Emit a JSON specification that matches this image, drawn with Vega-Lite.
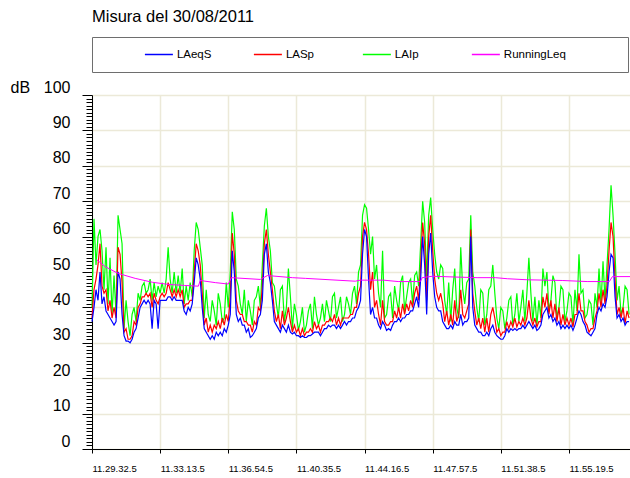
{
"$schema": "https://vega.github.io/schema/vega-lite/v6.json",
"padding": {"left": 10, "top": 9, "right": 0, "bottom": 0},
"background": "white",
"bounds": "flush",
"spacing": 23,
"title": {"text": "Misura del 30/08/2011", "anchor": "start", "frame": "group", "fontSize": 16.5, "font": "Liberation Sans", "fontWeight": "normal", "color": "black", "offset": 11},
"config": {"font": "Liberation Sans", "view": {"stroke": null}},
"datasets": {
"lev": [
{"t":0,"i":40,"s":37,"a":36},{"t":6.5,"i":65,"s":45,"a":40},{"t":13,"i":52,"s":48,"a":45},{"t":19.5,"i":60,"s":52,"a":42},{"t":26,"i":62,"s":58,"a":50},
{"t":32.5,"i":56,"s":46,"a":41},{"t":39,"i":45,"s":44,"a":43},{"t":45.5,"i":57,"s":45,"a":39},{"t":52,"i":41,"s":39,"a":38},{"t":58.5,"i":54,"s":42,"a":37},
{"t":65,"i":38,"s":37,"a":36},{"t":71.5,"i":49,"s":40,"a":35},{"t":78,"i":38,"s":37,"a":36},{"t":84.5,"i":66,"s":57,"a":50},{"t":91,"i":62,"s":55,"a":48},
{"t":97.5,"i":58,"s":47,"a":38},{"t":104,"i":34,"s":33,"a":32},{"t":110.5,"i":42,"s":34,"a":30.5},{"t":117,"i":36,"s":31,"a":30.5},{"t":123.5,"i":32,"s":31,"a":30},
{"t":130,"i":38,"s":32,"a":31},{"t":136.5,"i":40,"s":36,"a":33},{"t":143,"i":36,"s":35,"a":34},{"t":149.5,"i":44,"s":40,"a":37},{"t":156,"i":42,"s":41,"a":40},
{"t":162.5,"i":46,"s":43,"a":41},{"t":169,"i":47,"s":43,"a":42},{"t":175.5,"i":44,"s":44,"a":41},{"t":182,"i":45,"s":43,"a":42},{"t":188.5,"i":48,"s":44,"a":41},
{"t":195,"i":42,"s":40,"a":34},{"t":201.5,"i":47,"s":44,"a":42},{"t":208,"i":43,"s":42,"a":41},{"t":214.5,"i":46,"s":41,"a":34},{"t":221,"i":44,"s":43,"a":42},
{"t":227.5,"i":47,"s":44,"a":42},{"t":234,"i":44,"s":43,"a":42},{"t":240.5,"i":48,"s":44,"a":42},{"t":247,"i":57,"s":47,"a":43},{"t":253.5,"i":48,"s":45,"a":43},
{"t":260,"i":44,"s":43,"a":42},{"t":266.5,"i":50,"s":45,"a":43},{"t":273,"i":44,"s":43,"a":42},{"t":279.5,"i":49,"s":45,"a":42},{"t":286,"i":44,"s":43,"a":42},
{"t":292.5,"i":51,"s":45,"a":42},{"t":299,"i":41,"s":40,"a":39},{"t":305.5,"i":46,"s":41,"a":38},{"t":312,"i":42,"s":41,"a":40},{"t":318.5,"i":47,"s":42,"a":39},
{"t":325,"i":43,"s":42,"a":41},{"t":331.5,"i":56,"s":50,"a":47},{"t":338,"i":64,"s":58,"a":54},{"t":344.5,"i":62,"s":56,"a":52},{"t":351,"i":57,"s":52,"a":48},
{"t":357.5,"i":52,"s":44,"a":40},{"t":364,"i":37,"s":35,"a":34},{"t":370.5,"i":45,"s":37,"a":33},{"t":377,"i":38,"s":33,"a":32},{"t":383.5,"i":36,"s":35,"a":31},
{"t":390,"i":42,"s":33,"a":32},{"t":396.5,"i":39,"s":35,"a":31},{"t":403,"i":35,"s":34,"a":33},{"t":409.5,"i":44,"s":36,"a":32},{"t":416,"i":41,"s":34,"a":33},
{"t":422.5,"i":36,"s":37,"a":32},{"t":429,"i":37,"s":35,"a":34},{"t":435.5,"i":47,"s":38,"a":33},{"t":442,"i":40,"s":36,"a":35},{"t":448.5,"i":50,"s":43,"a":38},
{"t":455,"i":67,"s":61,"a":56},{"t":461.5,"i":62,"s":55,"a":50},{"t":468,"i":48,"s":42,"a":38},{"t":474.5,"i":46,"s":39,"a":36},{"t":481,"i":41,"s":38,"a":37},
{"t":487.5,"i":38,"s":38,"a":35},{"t":494,"i":45,"s":36,"a":35},{"t":500.5,"i":36,"s":36,"a":33},{"t":507,"i":42,"s":35,"a":34},{"t":513.5,"i":39,"s":35,"a":31.5},
{"t":520,"i":35,"s":33,"a":32},{"t":526.5,"i":42,"s":36,"a":33},{"t":533,"i":43,"s":35,"a":34},{"t":539.5,"i":46,"s":40,"a":37},{"t":546,"i":40,"s":39,"a":38},
{"t":552.5,"i":52,"s":46,"a":42},{"t":559,"i":63,"s":58,"a":55},{"t":565.5,"i":68,"s":62,"a":58},{"t":572,"i":60,"s":55,"a":50},{"t":578.5,"i":56,"s":50,"a":47},
{"t":585,"i":47,"s":45,"a":42},{"t":591.5,"i":46,"s":39,"a":36},{"t":598,"i":41,"s":36,"a":35},{"t":604.5,"i":37,"s":38,"a":34},{"t":611,"i":45,"s":34,"a":33},
{"t":617.5,"i":46,"s":39,"a":35},{"t":624,"i":36,"s":35,"a":34},{"t":630.5,"i":40,"s":37,"a":33},{"t":637,"i":51,"s":40,"a":35},{"t":643.5,"i":43,"s":36,"a":33},
{"t":650,"i":34,"s":33,"a":32.5},{"t":656.5,"i":41,"s":35,"a":33},{"t":663,"i":38,"s":33,"a":32},{"t":669.5,"i":33.5,"s":34,"a":32},{"t":676,"i":36,"s":32,"a":31.5},
{"t":682.5,"i":40,"s":34,"a":32},{"t":689,"i":33,"s":32,"a":31.5},{"t":695.5,"i":35,"s":33,"a":31.5},{"t":702,"i":39,"s":33,"a":32},{"t":708.5,"i":41,"s":34,"a":32},
{"t":715,"i":34,"s":33,"a":32.5},{"t":721.5,"i":43,"s":36,"a":33},{"t":728,"i":38,"s":34,"a":33},{"t":734.5,"i":35,"s":35,"a":33},{"t":741,"i":37,"s":33,"a":32},
{"t":747.5,"i":41,"s":35,"a":33},{"t":754,"i":36,"s":35,"a":34},{"t":760.5,"i":42,"s":36,"a":34},{"t":767,"i":39,"s":36,"a":35},{"t":773.5,"i":36,"s":37,"a":34.5},
{"t":780,"i":43,"s":36,"a":35},{"t":786.5,"i":44,"s":38,"a":35},{"t":793,"i":37,"s":35,"a":34},{"t":799.5,"i":40,"s":37,"a":35},{"t":806,"i":43,"s":35,"a":34},
{"t":812.5,"i":36,"s":37,"a":35},{"t":819,"i":38,"s":37,"a":36},{"t":825.5,"i":43,"s":37,"a":35},{"t":832,"i":41,"s":37,"a":36},{"t":838.5,"i":38,"s":38,"a":36},
{"t":845,"i":44,"s":38,"a":37},{"t":851.5,"i":46,"s":40,"a":37},{"t":858,"i":41,"s":40,"a":39},{"t":864.5,"i":50,"s":44,"a":40},{"t":871,"i":52,"s":46,"a":42},
{"t":877.5,"i":66,"s":60,"a":55},{"t":884,"i":69,"s":64,"a":62},{"t":890.5,"i":68,"s":62,"a":60},{"t":897,"i":62,"s":55,"a":48},{"t":903.5,"i":55,"s":45,"a":38},
{"t":910,"i":60,"s":50,"a":40},{"t":916.5,"i":48,"s":40,"a":37},{"t":923,"i":52,"s":42,"a":37},{"t":929.5,"i":44,"s":38,"a":35},{"t":936,"i":40,"s":35,"a":34},
{"t":942.5,"i":56,"s":42,"a":36},{"t":949,"i":37,"s":36,"a":35},{"t":955.5,"i":38,"s":35,"a":33.5},{"t":962,"i":43,"s":35,"a":34},{"t":968.5,"i":44,"s":36,"a":33.5},
{"t":975,"i":37,"s":36,"a":35},{"t":981.5,"i":46,"s":39,"a":36},{"t":988,"i":42,"s":37,"a":36},{"t":994.5,"i":39,"s":40,"a":37},{"t":1001,"i":47,"s":37,"a":36},
{"t":1007.5,"i":49,"s":41,"a":37},{"t":1014,"i":39,"s":38,"a":37},{"t":1020.5,"i":43,"s":41,"a":38},{"t":1027,"i":47,"s":39,"a":38},{"t":1033.5,"i":48,"s":42,"a":39},
{"t":1040,"i":41,"s":40,"a":39},{"t":1046.5,"i":49,"s":44,"a":41},{"t":1053,"i":50,"s":46,"a":43},{"t":1059.5,"i":46,"s":42,"a":40},{"t":1066,"i":58,"s":52,"a":48},
{"t":1072.5,"i":70,"s":64,"a":60},{"t":1079,"i":64,"s":58,"a":52},{"t":1085.5,"i":48,"s":42,"a":38},{"t":1092,"i":66,"s":60,"a":55},{"t":1098.5,"i":71,"s":66,"a":61},
{"t":1105,"i":62,"s":56,"a":50},{"t":1111.5,"i":55,"s":48,"a":43},{"t":1118,"i":50,"s":44,"a":40},{"t":1124.5,"i":48,"s":42,"a":39},{"t":1131,"i":52,"s":44,"a":39},
{"t":1137.5,"i":51,"s":41,"a":36},{"t":1144,"i":42,"s":36,"a":35},{"t":1150.5,"i":38,"s":39,"a":34},{"t":1157,"i":47,"s":35,"a":34},{"t":1163.5,"i":36,"s":38,"a":35},
{"t":1170,"i":45,"s":35,"a":34},{"t":1176.5,"i":51,"s":42,"a":36},{"t":1183,"i":40,"s":36,"a":35},{"t":1189.5,"i":37,"s":38,"a":35},{"t":1196,"i":57,"s":45,"a":38},
{"t":1202.5,"i":45,"s":38,"a":35},{"t":1209,"i":41,"s":37,"a":36},{"t":1215.5,"i":47,"s":39,"a":36},{"t":1222,"i":48,"s":41,"a":37},{"t":1228.5,"i":66,"s":62,"a":60},
{"t":1235,"i":50,"s":44,"a":40},{"t":1241.5,"i":46,"s":39,"a":35},{"t":1248,"i":40,"s":35,"a":34},{"t":1254.5,"i":36,"s":37,"a":33},{"t":1261,"i":45,"s":34,"a":33},
{"t":1267.5,"i":44,"s":37,"a":32},{"t":1274,"i":35,"s":33,"a":32},{"t":1280.5,"i":38,"s":37,"a":33},{"t":1287,"i":45,"s":33,"a":32},{"t":1293.5,"i":46,"s":38,"a":34},
{"t":1300,"i":52,"s":40,"a":35},{"t":1306.5,"i":44,"s":37,"a":33},{"t":1313,"i":37,"s":33,"a":32},{"t":1319.5,"i":34,"s":34,"a":31.5},{"t":1326,"i":40,"s":32,"a":31},
{"t":1332.5,"i":39,"s":33,"a":31},{"t":1339,"i":34,"s":33,"a":32},{"t":1345.5,"i":37,"s":36,"a":34},{"t":1352,"i":42,"s":34,"a":33},{"t":1358.5,"i":43,"s":36,"a":34},
{"t":1365,"i":35,"s":34.5,"a":33.5},{"t":1371.5,"i":38,"s":37,"a":34},{"t":1378,"i":44,"s":34.5,"a":33.5},{"t":1384.5,"i":36,"s":36,"a":34},{"t":1391,"i":40,"s":35,"a":34},
{"t":1397.5,"i":45,"s":37,"a":35},{"t":1404,"i":36,"s":35,"a":34},{"t":1410.5,"i":44,"s":37,"a":35},{"t":1417,"i":54,"s":42,"a":36},{"t":1423.5,"i":44,"s":37,"a":35},
{"t":1430,"i":36,"s":35,"a":34},{"t":1436.5,"i":43,"s":37,"a":35},{"t":1443,"i":35,"s":34.5,"a":33.5},{"t":1449.5,"i":42,"s":36,"a":34},{"t":1456,"i":37,"s":36,"a":35},
{"t":1462.5,"i":51,"s":43,"a":38},{"t":1469,"i":46,"s":40,"a":39},{"t":1475.5,"i":50,"s":44,"a":40},{"t":1482,"i":39,"s":38,"a":37},{"t":1488.5,"i":42,"s":42,"a":38},
{"t":1495,"i":49,"s":37,"a":36},{"t":1501.5,"i":47,"s":41,"a":37},{"t":1508,"i":37,"s":36,"a":35},{"t":1514.5,"i":40,"s":40,"a":36},{"t":1521,"i":46,"s":35,"a":34},
{"t":1527.5,"i":45,"s":38,"a":35},{"t":1534,"i":36,"s":35,"a":34},{"t":1540.5,"i":39,"s":37,"a":35},{"t":1547,"i":44,"s":35,"a":34},{"t":1553.5,"i":43,"s":37,"a":35},
{"t":1560,"i":35,"s":34.5,"a":33.5},{"t":1566.5,"i":45,"s":38,"a":35},{"t":1573,"i":39,"s":38,"a":37},{"t":1579.5,"i":55,"s":44,"a":39},{"t":1586,"i":44,"s":39,"a":38},
{"t":1592.5,"i":45,"s":39,"a":36},{"t":1599,"i":37,"s":36,"a":35},{"t":1605.5,"i":38,"s":35,"a":33},{"t":1612,"i":42,"s":33,"a":32.5},{"t":1618.5,"i":41,"s":34,"a":32},
{"t":1625,"i":35,"s":34,"a":33},{"t":1631.5,"i":44,"s":37,"a":34},{"t":1638,"i":40,"s":39,"a":38},{"t":1644.5,"i":51,"s":44,"a":40},{"t":1651,"i":41,"s":40,"a":39},
{"t":1657.5,"i":53,"s":45,"a":41},{"t":1664,"i":42,"s":41,"a":40},{"t":1670.5,"i":52,"s":46,"a":43},{"t":1677,"i":62,"s":56,"a":50},{"t":1683.5,"i":74.5,"s":64,"a":55},
{"t":1690,"i":66,"s":60,"a":54},{"t":1696.5,"i":55,"s":48,"a":43},{"t":1703,"i":42,"s":38,"a":37},{"t":1709.5,"i":46,"s":40,"a":38},{"t":1716,"i":38,"s":37,"a":36},
{"t":1722.5,"i":40,"s":40,"a":37},{"t":1729,"i":46,"s":35.5,"a":35},{"t":1735.5,"i":45,"s":39,"a":36},{"t":1742,"i":38,"s":37,"a":36}
],
"run": [
{"t":15,"r":53.5},{"t":43,"r":51.5},{"t":85,"r":49.6},{"t":140,"r":48.2},{"t":196,"r":47.1},{"t":247,"r":46.5},{"t":300,"r":46.2},{"t":345,"r":46.0},
{"t":351,"r":47.6},{"t":400,"r":47.0},{"t":442,"r":46.6},{"t":452,"r":48.4},{"t":546,"r":47.9},{"t":569,"r":49.0},{"t":650,"r":48.4},{"t":692,"r":48.2},
{"t":854,"r":47.4},{"t":870,"r":47.7},{"t":945,"r":47.7},{"t":993,"r":47.3},{"t":1065,"r":47.3},{"t":1071,"r":48.4},{"t":1104,"r":48.8},{"t":1171,"r":48.6},
{"t":1249,"r":48.4},{"t":1308,"r":48.4},{"t":1347,"r":48.1},{"t":1412,"r":47.8},{"t":1525,"r":47.6},{"t":1606,"r":47.3},{"t":1678,"r":47.3},{"t":1688,"r":48.7},{"t":1745,"r":48.7}
]
},
"vconcat": [
{
"width": 536, "height": 35,
"view": {"stroke": "#6e6e6e", "strokeWidth": 1},
"data": {"values": [{"serie":"LAeqS"},{"serie":"LASp"},{"serie":"LAIp"},{"serie":"RunningLeq"}]},
"encoding": {
"x": {"field": "serie", "type": "nominal", "sort": null, "axis": null, "scale": {"type": "point", "padding": 0.959, "align": 0.32}},
"color": {"field": "serie", "type": "nominal", "sort": null, "legend": null, "scale": {"domain": ["LAeqS","LASp","LAIp","RunningLeq"], "range": ["#0000ff","#ff0000","#00ff00","#ff00ff"]}}
},
"layer": [
{"mark": {"type": "tick", "orient": "horizontal", "size": 28, "thickness": 1.5, "opacity": 1}},
{"mark": {"type": "text", "align": "left", "baseline": "middle", "dx": 18, "fontSize": 11.5, "font": "Liberation Sans"}, "encoding": {"text": {"field": "serie"}, "color": {"value": "#000000"}}}
]
},
{
"width": 538, "height": 354,
"encoding": {
"x": {"field": "t", "type": "quantitative", "scale": {"domain": [0, 1745], "nice": false, "zero": false},
"axis": {"values": [0,221,442,663,884,1105,1326,1547], "labelExpr": "timeFormat(datetime(2011,7,30,11,29,32+datum.value,500),'%H.%M.%S')+'.5'", "title": null,
"labelAlign": "left", "labelBaseline": "top", "labelPadding": 10, "labelFontSize": 9.5, "labelColor": "black", "labelFont": "Liberation Sans",
"labelFlush": false, "labelOverlap": false, "labelBound": false, "tickSize": 4, "tickColor": "black", "domainColor": "black",
"grid": true, "gridColor": "#ece9d8", "gridWidth": 1.5}},
"y": {"type": "quantitative", "scale": {"domain": [0, 100], "nice": false},
"axis": {"title": "dB", "titleAngle": 0, "titleAlign": "left", "titleBaseline": "middle", "titleX": -82, "titleY": -8, "titleFontSize": 16, "titleFontWeight": "normal", "titleColor": "black", "titleFont": "Liberation Sans",
"values": [0,1,2,3,4,5,6,7,8,9,10,11,12,13,14,15,16,17,18,19,20,21,22,23,24,25,26,27,28,29,30,31,32,33,34,35,36,37,38,39,40,41,42,43,44,45,46,47,48,49,50,51,52,53,54,55,56,57,58,59,60,61,62,63,64,65,66,67,68,69,70,71,72,73,74,75,76,77,78,79,80,81,82,83,84,85,86,87,88,89,90,91,92,93,94,95,96,97,98,99,100],
"labelExpr": "datum.value % 10 === 0 ? datum.label : ''", "labelOverlap": false, "labelBound": false, "labelFlush": false,
"labelFontSize": 16, "labelColor": "black", "labelFont": "Liberation Sans", "labelBaseline": "middle", "labelOffset": -8, "labelPadding": 12,
"domainColor": "black", "tickColor": "black",
"tickSize": {"condition": {"test": "datum.value % 10 === 0", "value": 10}, "value": 6},
"grid": true, "gridColor": "#ece9d8", "gridWidth": 1.5,
"gridOpacity": {"condition": {"test": "datum.value % 10 === 0", "value": 1}, "value": 0}}}
},
"layer": [
{"data": {"name": "lev"}, "mark": {"type": "line", "color": "#00ff00", "strokeWidth": 1.2},
"encoding": {"y": {"field": "i", "type": "quantitative"}}},
{"data": {"name": "lev"}, "mark": {"type": "line", "color": "#ff0000", "strokeWidth": 1.2},
"encoding": {"y": {"field": "s", "type": "quantitative"}}},
{"data": {"name": "lev"}, "mark": {"type": "line", "color": "#0000ff", "strokeWidth": 1.2},
"encoding": {"y": {"field": "a", "type": "quantitative"}}},
{"data": {"name": "run"}, "mark": {"type": "line", "color": "#ff00ff", "strokeWidth": 1},
"encoding": {"y": {"field": "r", "type": "quantitative"}}}
]
}
]
}
